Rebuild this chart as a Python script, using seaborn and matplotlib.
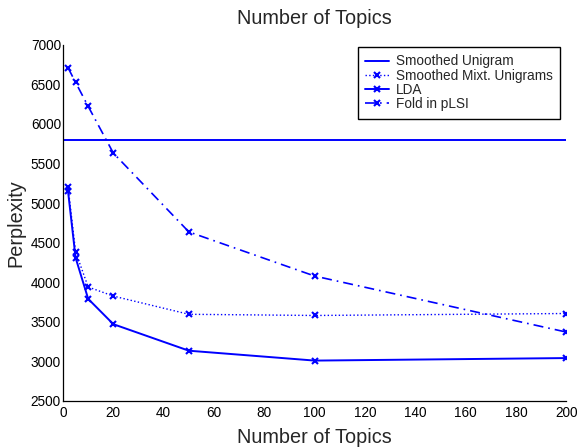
import numpy as np
import pandas as pd
import matplotlib
matplotlib.use("Agg")
import matplotlib.pyplot as plt
import seaborn as sns

# -------------------------------------------------------------
# DATA
# -------------------------------------------------------------
topics = [2, 5, 10, 20, 50, 100, 200]
unigram_perplexity = 5800
mixt_unigram = [5205, 4385, 3940, 3825, 3595, 3580, 3605]
lda = [5150, 4310, 3790, 3470, 3135, 3010, 3042]
plsi = [6710, 6525, 6222, 5632, 4636, 4078, 3370]

x_ticks = list(range(0, 201, 20))
y_ticks = list(range(2500, 7001, 500))

sns.set_style("white")
plt.rcParams["font.family"] = ["Liberation Sans", "DejaVu Sans"]

BLUE = (0, 0, 1)

fig = plt.figure(figsize=(5.78, 4.48), dpi=100)
ax = fig.add_axes([0.109, 0.105, 0.871, 0.795])

ax.axhline(unigram_perplexity, color=BLUE, lw=1.4, label="Smoothed Unigram")
sns.lineplot(x=topics, y=mixt_unigram, ax=ax, color=BLUE, linestyle=":", lw=1.0,
             marker="x", markersize=5, markeredgewidth=1.5, markeredgecolor=BLUE,
             label="Smoothed Mixt. Unigrams")
sns.lineplot(x=topics, y=lda, ax=ax, color=BLUE, linestyle="-", lw=1.4,
             marker="x", markersize=5, markeredgewidth=1.5, markeredgecolor=BLUE,
             label="LDA")
sns.lineplot(x=topics, y=plsi, ax=ax, color=BLUE, linestyle=(0, (6, 3, 1, 3)), lw=1.2,
             marker="x", markersize=5, markeredgewidth=1.5, markeredgecolor=BLUE,
             label="Fold in pLSI")

ax.set_xlim(0, 200)
ax.set_ylim(2500, 7000)
ax.set_xticks(x_ticks)
ax.set_yticks(y_ticks)
ax.tick_params(axis="both", direction="in", length=3.6, width=0.8, colors="black",
               labelsize=9.8)
ax.tick_params(axis="x", pad=3.5)
ax.tick_params(axis="y", pad=1.5)
sns.despine(ax=ax)
for s in ["left", "bottom"]:
    ax.spines[s].set_color("black")
    ax.spines[s].set_linewidth(0.9)

ax.set_title("Number of Topics", fontsize=14.3, pad=15)
ax.set_xlabel("Number of Topics", fontsize=14.3, labelpad=6)
ax.set_ylabel("Perplexity", fontsize=14.3, labelpad=4)

leg = ax.legend(loc="upper right", bbox_to_anchor=(0.988, 0.994), fontsize=9.8,
                frameon=True, fancybox=False, framealpha=1, edgecolor="black",
                handlelength=1.7, handletextpad=0.55, labelspacing=0.02,
                borderpad=0.55, borderaxespad=0)
leg.get_frame().set_linewidth(1.0)

fig.savefig("out.png", dpi=100)
